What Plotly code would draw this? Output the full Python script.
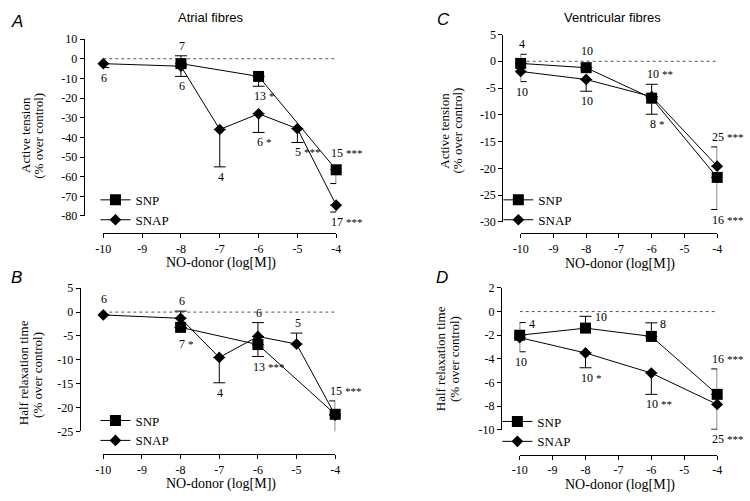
import plotly.graph_objects as go

W, H = 750, 501

X_TICKS = [-10, -9, -8, -7, -6, -5, -4]
X_TICK_TEXT = ["-10", "-9", "-8", "-7", "-6", "-5", "-4"]

# ---- Panel A: atrial fibres, active tension ----
A_SNP_X = [-8, -6, -4]
A_SNP_Y = [-2.5, -9.0, -56.5]
A_SNP_UP = [4.0, 0, 0]
A_SNP_DN = [0, 5.0, 7.0]
A_SNP_N = ["7", "13 *", "15 ***"]
A_SNP_POS = ["above", "below", "above"]

A_SNAP_X = [-10, -8, -7, -6, -5, -4]
A_SNAP_Y = [-2.5, -3.8, -36.0, -28.0, -35.6, -74.5]
A_SNAP_UP = [0, 0, 0, 0, 0, 0]
A_SNAP_DN = [2.0, 5.2, 19.0, 9.5, 7.0, 3.5]
A_SNAP_N = ["6", "6", "4", "6 *", "5 ***", "17 ***"]
A_SNAP_POS = ["below", "below", "below", "below", "below", "below"]

A_Y_TICKS = [10, 0, -10, -20, -30, -40, -50, -60, -70, -80]

# ---- Panel B: atrial fibres, half relaxation time ----
B_SNP_X = [-8, -6, -4]
B_SNP_Y = [-3.2, -6.8, -21.4]
B_SNP_UP = [0, 0, 2.8]
B_SNP_DN = [0, 2.5, 0]
B_SNP_N = ["7 *", "13 ***", "15 ***"]
B_SNP_POS = ["below", "below", "above"]

B_SNAP_X = [-10, -8, -7, -6, -5, -4]
B_SNAP_Y = [-0.6, -1.3, -9.5, -5.1, -6.7, -21.6]
B_SNAP_UP = [0, 1.5, 0, 2.9, 2.3, 0]
B_SNAP_DN = [0, 0, 5.3, 0, 0, 3.7]
B_SNAP_N = ["6", "6", "4", "6", "5", "17 ***"]
B_SNAP_POS = ["above", "above", "below", "above", "above", "below"]

B_Y_TICKS = [5, 0, -5, -10, -15, -20, -25]

# ---- Panel C: ventricular fibres, active tension ----
C_SNP_X = [-10, -8, -6, -4]
C_SNP_Y = [-0.4, -1.2, -6.9, -21.7]
C_SNP_UP = [1.7, 0, 0, 0]
C_SNP_DN = [0, 0, 3.0, 6.0]
C_SNP_N = ["4", "10", "8 *", "16 ***"]
C_SNP_POS = ["above", "above", "below", "below"]

C_SNAP_X = [-10, -8, -6, -4]
C_SNAP_Y = [-1.9, -3.4, -6.6, -19.6]
C_SNAP_UP = [0, 0, 2.3, 3.6]
C_SNAP_DN = [1.9, 2.2, 0, 0]
C_SNAP_N = ["10", "10", "10 **", "25 ***"]
C_SNAP_POS = ["below", "below", "above", "above"]

C_Y_TICKS = [5, 0, -5, -10, -15, -20, -25, -30]

# ---- Panel D: ventricular fibres, half relaxation time ----
D_SNP_X = [-10, -8, -6, -4]
D_SNP_Y = [-2.0, -1.4, -2.1, -7.0]
D_SNP_UP = [1.07, 1.0, 1.15, 2.15]
D_SNP_DN = [0, 0, 0, 0]
D_SNP_N = ["4", "10", "8", "16 ***"]
D_SNP_POS = ["right", "right", "right", "above"]

D_SNAP_X = [-10, -8, -6, -4]
D_SNAP_Y = [-2.2, -3.5, -5.2, -7.85]
D_SNAP_UP = [0, 0, 0, 0]
D_SNAP_DN = [1.2, 1.25, 1.8, 2.1]
D_SNAP_N = ["10", "10 *", "10 **", "25 ***"]
D_SNAP_POS = ["below", "below", "below", "below"]

D_Y_TICKS = [2, 0, -2, -4, -6, -8, -10]

SERIF = "Liberation Serif"
SANS = "Liberation Sans"

# layout geometry in pixels: x-domain, y-domain (top, bottom), y-axis line x, x-axis line y
PANELS = [
    dict(xd=(97, 334), yd=(33, 215), yl=77, xl=233, yr=(-80, 10), yt=A_Y_TICKS,
         series=[(A_SNP_X, A_SNP_Y, A_SNP_UP, A_SNP_DN, A_SNP_N, A_SNP_POS),
                 (A_SNAP_X, A_SNAP_Y, A_SNAP_UP, A_SNAP_DN, A_SNAP_N, A_SNAP_POS)],
         leg=(89, 183)),
    dict(xd=(97, 333), yd=(289.3, 436.7), yl=73, xl=460, yr=(-25, 5), yt=B_Y_TICKS,
         series=[(B_SNP_X, B_SNP_Y, B_SNP_UP, B_SNP_DN, B_SNP_N, B_SNP_POS),
                 (B_SNAP_X, B_SNAP_Y, B_SNAP_UP, B_SNAP_DN, B_SNAP_N, B_SNAP_POS)],
         leg=(89, 410)),
    dict(xd=(521.7, 721.7), yd=(28.3, 221), yl=503, xl=233, yr=(-30, 5), yt=C_Y_TICKS,
         series=[(C_SNP_X, C_SNP_Y, C_SNP_UP, C_SNP_DN, C_SNP_N, C_SNP_POS),
                 (C_SNAP_X, C_SNAP_Y, C_SNAP_UP, C_SNAP_DN, C_SNAP_N, C_SNAP_POS)],
         leg=(499, 183)),
    dict(xd=(520.7, 721.7), yd=(289, 435), yl=501.7, xl=460.7, yr=(-10, 2), yt=D_Y_TICKS,
         series=[(D_SNP_X, D_SNP_Y, D_SNP_UP, D_SNP_DN, D_SNP_N, D_SNP_POS),
                 (D_SNAP_X, D_SNAP_Y, D_SNAP_UP, D_SNAP_DN, D_SNAP_N, D_SNAP_POS)],
         leg=(498, 411)),
]

NAMES = ["SNP", "SNAP"]
SYMBOLS = ["square", "diamond"]
SIZES = [11, 9]

fig = go.Figure()
annotations = []
shapes = []
layout = {}


def px_x(p):
    return p / W


def px_y(p):
    return 1 - p / H


def label_html(lab):
    parts = lab.split(" ")
    if len(parts) > 1:
        return parts[0] + ' <span style="font-size:11px">' + parts[1] + "</span>", parts[0]
    return parts[0], parts[0]


LFONT = dict(family=SERIF, size=12, color="black")

for i, P in enumerate(PANELS):
    n = i + 1
    xa = "x" if n == 1 else f"x{n}"
    ya = "y" if n == 1 else f"y{n}"
    legname = "legend" if n == 1 else f"legend{n}"
    for s, (xs, ys, up, dn, labels, pos) in enumerate(P["series"]):
        fig.add_trace(go.Scatter(
            x=xs, y=ys, mode="lines+markers", name=NAMES[s],
            xaxis=xa, yaxis=ya, legend=legname, cliponaxis=False,
            line=dict(color="black", width=1),
            marker=dict(symbol=SYMBOLS[s], size=SIZES[s], color="black",
                        line=dict(color="black", width=0)),
            error_y=dict(type="data", symmetric=False, array=up, arrayminus=dn,
                         color="black", thickness=1, width=6),
        ))
        half = SIZES[s] / 2
        for xv, yv, u, d, lab, ps in zip(xs, ys, up, dn, labels, pos):
            text, num = label_html(lab)
            xsh = -3.0 * len(num) - 1
            if ps == "above":
                annotations.append(dict(
                    x=xv, y=yv + u, xref=xa, yref=ya, text=text, showarrow=False,
                    xanchor="left", yanchor="bottom", xshift=xsh,
                    yshift=(1 if u > 0 else half + 2), font=LFONT))
            elif ps == "below":
                annotations.append(dict(
                    x=xv, y=yv - d, xref=xa, yref=ya, text=text, showarrow=False,
                    xanchor="left", yanchor="top", xshift=xsh,
                    yshift=-(1 if d > 0 else half + 2), font=LFONT))
            else:
                annotations.append(dict(
                    x=xv, y=yv + u, xref=xa, yref=ya, text=text, showarrow=False,
                    xanchor="left", yanchor="middle", xshift=7, yshift=-1, font=LFONT))

    x0, x1 = P["xd"]
    yt0, yb0 = P["yd"]
    axis_common = dict(showgrid=False, zeroline=False, showline=True, linecolor="black",
                       linewidth=1, ticks="outside", ticklen=4, tickwidth=1, tickcolor="black",
                       tickfont=dict(family=SERIF, size=12, color="black"))
    layout["xaxis" if n == 1 else f"xaxis{n}"] = dict(
        domain=[px_x(x0), px_x(x1)], range=[-10, -4], anchor="free",
        position=px_y(P["xl"]), tickvals=X_TICKS, ticktext=X_TICK_TEXT, **axis_common)
    layout["yaxis" if n == 1 else f"yaxis{n}"] = dict(
        domain=[px_y(yb0), px_y(yt0)], range=list(P["yr"]), anchor="free",
        position=px_x(P["yl"]), tickvals=P["yt"], ticktext=[str(v) for v in P["yt"]],
        **axis_common)
    lx, ly = P["leg"]
    layout[legname] = dict(x=px_x(lx), y=px_y(ly), xanchor="left", yanchor="top",
                           bgcolor="rgba(0,0,0,0)", borderwidth=0, tracegroupgap=0,
                           itemwidth=30,
                           font=dict(family=SERIF, size=13, color="black"))
    shapes.append(dict(type="line", xref=xa, yref=ya, x0=-10, x1=-4, y0=0, y1=0,
                       line=dict(color="#555555", width=1, dash="dot"), layer="below"))


def txt(x, y, text, size, family=SERIF, angle=0, italic=False):
    annotations.append(dict(x=px_x(x), y=px_y(y), xref="paper", yref="paper", text=text,
                            showarrow=False, textangle=angle, xanchor="center", yanchor="middle",
                            font=dict(family=family, size=size, color="black",
                                      style="italic" if italic else "normal")))


txt(207, 11, "Atrial fibres", 13, SANS)
txt(615, 11, "Ventricular fibres", 13, SANS)
txt(9, 15, "A", 17, SANS, italic=True)
txt(443, 13, "C", 17, SANS, italic=True)
txt(9, 278, "B", 17, SANS, italic=True)
txt(442, 278, "D", 17, SANS, italic=True)

txt(217, 263, "NO-donor (log[M])", 14)
txt(623, 264, "NO-donor (log[M])", 14)
txt(217, 491, "NO-donor (log[M])", 14)
txt(623, 492, "NO-donor (log[M])", 14)

txt(18, 132, "Active tension", 13, angle=-90)
txt(31, 132, "(% over control)", 13, angle=-90)
txt(444, 127, "Active tension", 13, angle=-90)
txt(457, 127, "(% over control)", 13, angle=-90)
txt(16, 376, "Half relaxation time", 13, angle=-90)
txt(30, 378, "(% over control)", 13, angle=-90)
txt(441, 362, "Half relaxation time", 13, angle=-90)
txt(455, 362, "(% over control)", 13, angle=-90)

fig.update_layout(
    width=W, height=H, margin=dict(l=0, r=0, t=0, b=0),
    paper_bgcolor="white", plot_bgcolor="white",
    annotations=annotations, shapes=shapes, **layout,
)

POST = (
    "document.documentElement.style.margin='0';"
    "document.documentElement.style.overflow='hidden';"
    "document.body.style.margin='0';document.body.style.padding='0';"
    "document.body.style.overflow='hidden';"
    "var gd=document.getElementById('{plot_id}');"
    "gd.style.position='fixed';gd.style.left='0px';gd.style.top='0px';"
)

fig.write_html("out.html", config={"displayModeBar": False}, post_script=POST)
